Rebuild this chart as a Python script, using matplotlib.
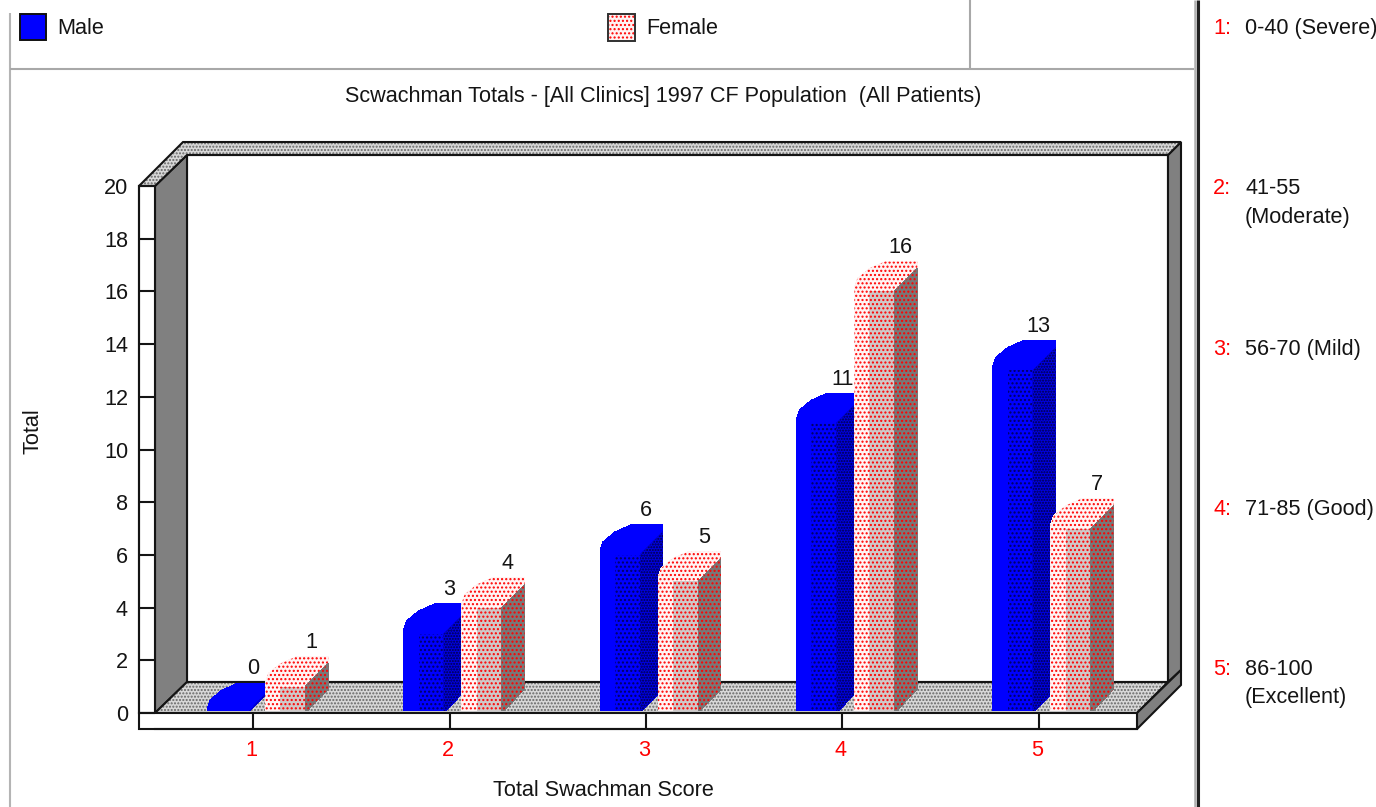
import matplotlib
matplotlib.use("Agg")
import matplotlib.pyplot as plt
from matplotlib.patches import Polygon, Rectangle
from matplotlib.transforms import Affine2D, Bbox

plt.rcParams['font.family'] = ['Liberation Sans', 'DejaVu Sans']
plt.rcParams['hatch.linewidth'] = 1.0

# ---- data ----
scores = [1, 2, 3, 4, 5]
male = [0, 3, 6, 11, 13]
female = [1, 4, 5, 16, 7]
y_ticks = [0, 2, 4, 6, 8, 10, 12, 14, 16, 18, 20]
title = "Scwachman Totals - [All Clinics] 1997 CF Population  (All Patients)"
x_label = "Total Swachman Score"
y_label = "Total"
key_numbers = ["1:", "2:", "3:", "4:", "5:"]
key_lines = [["0-40 (Severe)"], ["41-55", "(Moderate)"], ["56-70 (Mild)"],
             ["71-85 (Good)"], ["86-100", "(Excellent)"]]

W, H = 1376, 807
FS = 15.6
INK = '#141414'
fig = plt.figure(figsize=(W / 100, H / 100), dpi=100, facecolor='white')

# ---- chrome, in image pixels ----
bg = fig.add_axes([0, 0, 1, 1], zorder=0)
bg.set_xlim(0, W)
bg.set_ylim(H, 0)
bg.axis('off')


def hline(x0, x1, y, c, lw):
    bg.plot([x0, x1], [y, y], color=c, lw=lw, solid_capstyle='butt')


def vline(x, y0, y1, c, lw):
    bg.plot([x, x], [y0, y1], color=c, lw=lw, solid_capstyle='butt')


def label(x, y, s, **kw):
    kw.setdefault('fontsize', FS)
    kw.setdefault('color', INK)
    kw.setdefault('va', 'center')
    bg.text(x, y + 1.5, s, **kw)


vline(9.5, 13, H, '#b4b4b4', 1.5)
hline(10, 1194, 68.5, '#a8a8a8', 1.5)
vline(970, 0, 68, '#a8a8a8', 1.5)
vline(1195, 0, H, '#b0b0b0', 1.8)
vline(1198, 0, H, '#202020', 2.2)

bg.add_patch(Rectangle((19.5, 13.5), 26.5, 26.5, fc='#0000ff', ec='#101010', lw=1.4))
bg.add_patch(Rectangle((608.5, 14.5), 25, 25, fc='#fff4f4', ec='#ff0000', lw=0, hatch='....'))
bg.add_patch(Rectangle((607.5, 13.5), 27, 27, fc='none', ec='#303030', lw=1.4))
label(57, 27, "Male", ha='left')
label(646, 27, "Female", ha='left')
label(663, 95, title, ha='center')

OUT = dict(ec='#141414', lw=1.5, joinstyle='miter')


def hatched(pts, hatch_color='#666666'):
    bg.add_patch(Polygon(pts, closed=True, fc='#d8d8d8', ec=hatch_color, lw=0, hatch='.....'))
    bg.add_patch(Polygon(pts, closed=True, fc='none', **OUT))


bg.add_patch(Rectangle((187, 155), 981, 527, fc='white', **OUT))
bg.add_patch(Polygon([(155, 186), (187, 155), (187, 682), (155, 713)], fc='#808080', **OUT))
bg.add_patch(Polygon([(1168, 155), (1181, 142), (1181, 670), (1168, 682)], fc='#808080', **OUT))
hatched([(139, 186), (183, 142), (1181, 142), (1168, 155), (187, 155), (155, 186)])
hatched([(155, 713), (187, 682), (1168, 682), (1137, 713)])
bg.add_patch(Polygon([(1137, 713), (1181, 670), (1181, 685), (1137, 729)], fc='#808080', **OUT))
bg.add_patch(Rectangle((139, 186), 16, 527, fc='white', **OUT))
bg.add_patch(Rectangle((139, 713), 998, 16, fc='white', **OUT))

# ---- right-hand key ----
key_y = [27, 187, 348, 508, 668]
for num, lines, y in zip(key_numbers, key_lines, key_y):
    label(1213, y, num, color='#ff0000', ha='left')
    for i, line in enumerate(lines):
        label(1245, y + i * 28.5, line, ha='left')

# ---- plot axes ----
AL, AR, AT, AB = 155, 1137, 186, 713
ax = fig.add_axes([AL / W, 1 - AB / H, (AR - AL) / W, (AB - AT) / H], zorder=1)
ax.patch.set_alpha(0)
ax.set_xlim(0.5, 5.5)
ax.set_ylim(0, 20)
PX = (AR - AL) / 5
PY = (AB - AT) / 20
px2pt = 0.72

for s in ('top', 'right'):
    ax.spines[s].set_visible(False)
ax.spines['left'].set_position(('outward', 16 * px2pt))
ax.spines['bottom'].set_position(('outward', 16 * px2pt))
for s in ('left', 'bottom'):
    ax.spines[s].set_linewidth(1.5)
    ax.spines[s].set_color('#141414')
ax.set_xticks(scores)
ax.set_xticklabels([str(s) for s in scores])
ax.set_yticks(y_ticks)
ax.tick_params(axis='y', direction='in', length=16 * px2pt, width=1.5, pad=11 * px2pt,
               labelsize=FS, labelcolor=INK, color='#141414')
ax.tick_params(axis='x', direction='in', length=16 * px2pt, width=1.5, pad=11 * px2pt,
               labelsize=FS, labelcolor='#ff0000', color='#141414')
for lab in ax.get_xticklabels():
    lab.set_transform(lab.get_transform() + Affine2D().translate(-2, 0))
label(603, 789, x_label, ha='center')
label(33, 430, y_label, ha='center', rotation=90)

# everything belonging to a bar stops just above the front slab
BAR_CLIP = Bbox.from_extents(0, H - 711, W, H)


def pt(x, v, dx, dy):
    """Data point shifted by a pixel offset (dy up)."""
    return (x + dx / PX, v + dy / PY)


def draw_bar(x, v, left_px, colors):
    L, IL, IR, R = left_px, left_px + 15, left_px + 40, left_px + 63
    base, inner, side = colors
    outline = [(L, 0, False), (L, 4, True), (L + 3, 13, True), (L + 15, 23, True),
               (L + 31, 30, True), (R, 30, True), (R, 23, True), (IR, 0, True),
               (IL, 0, True), (IL, 0, False)]
    pts = [pt(x, v if top else 0, dx, dy) for dx, dy, top in outline]
    p1 = ax.add_patch(Polygon(pts, closed=True, fc=base[0], ec=base[1], lw=0, hatch=base[2],
                              zorder=3, antialiased=False))
    b = ax.bar(x + IL / PX, v, width=(IR - IL) / PX, align='edge', color=inner[0],
               edgecolor=inner[1], hatch=inner[2], linewidth=0, zorder=3, antialiased=False)
    side_pts = [pt(x, v, IR, 0), pt(x, v, R, 23), pt(x, 0, R, 24), pt(x, 0, IR, 0)]
    p3 = ax.add_patch(Polygon(side_pts, closed=True, fc=side[0], ec=side[1], lw=0, hatch=side[2],
                              zorder=3, antialiased=False))
    for art in (p1, b[0], p3):
        art.set_clip_path(None)
        art.set_clip_box(BAR_CLIP)


MALE_STYLE = (('#0000ff', '#0000ff', None), ('#0000ff', '#000060', '....'),
              ('#0000e0', '#000040', '......'))
FEMALE_STYLE = (('#fff4f4', '#ff0000', '....'), ('#cfc8c8', '#ff0000', '....'),
                ('#787878', '#ff0000', '....'))

for s, m, f in zip(scores, male, female):
    draw_bar(s, m, -46, MALE_STYLE)
    draw_bar(s, f, 12, FEMALE_STYLE)
    mx, my = pt(s, m, 0, 44)
    fx, fy = pt(s, f, 58, 44)
    ax.text(mx, my, str(m), fontsize=FS, color=INK, ha='center', va='center', zorder=4)
    ax.text(fx, fy, str(f), fontsize=FS, color=INK, ha='center', va='center', zorder=4)

fig.savefig('out.png', dpi=100, facecolor='white')
